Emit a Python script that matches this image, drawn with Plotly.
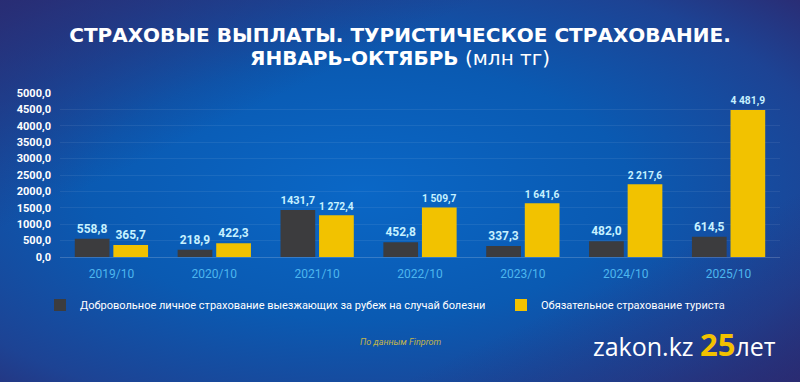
import base64
import plotly.graph_objects as go

categories = ["2019/10", "2020/10", "2021/10", "2022/10", "2023/10", "2024/10", "2025/10"]
voluntary = [558.8, 218.9, 1431.7, 452.8, 337.3, 482.0, 614.5]
voluntary_labels = ["558,8", "218,9", "1431,7", "452,8", "337,3", "482,0", "614,5"]
mandatory = [365.7, 422.3, 1272.4, 1509.7, 1641.6, 2217.6, 4481.9]
mandatory_labels = ["365,7", "422,3", "1 272,4", "1 509,7", "1 641,6", "2 217,6", "4 481,9"]
y_ticks = [0, 500, 1000, 1500, 2000, 2500, 3000, 3500, 4000, 4500, 5000]
y_tick_labels = ["0,0", "500,0", "1000,0", "1500,0", "2000,0", "2500,0", "3000,0",
                 "3500,0", "4000,0", "4500,0", "5000,0"]
series_names = ["Добровольное личное страхование выезжающих за рубеж на случай болезни",
                "Обязательное страхование туриста"]

W, H = 800, 382
FONT = "Roboto"
TITLE_FONT = "DejaVu Sans"
LABEL_COLOR = "#c6f1ff"

svg = f"""<svg xmlns='http://www.w3.org/2000/svg' width='{W}' height='{H}' viewBox='0 0 {W} {H}' preserveAspectRatio='none'>
<defs>
<radialGradient id='g' cx='0.45' cy='0.5' r='0.75'>
<stop offset='0' stop-color='#0a67c6'/>
<stop offset='0.45' stop-color='#0a5ab2'/>
<stop offset='0.8' stop-color='#1d4394'/>
<stop offset='1' stop-color='#2a2c74'/>
</radialGradient>
<linearGradient id='tl' x1='0' y1='0' x2='1' y2='1'>
<stop offset='0' stop-color='#2a2a70' stop-opacity='0.8'/>
<stop offset='0.3' stop-color='#2a2a70' stop-opacity='0'/>
<stop offset='0.75' stop-color='#2a2a70' stop-opacity='0'/>
<stop offset='1' stop-color='#2a2a70' stop-opacity='0.6'/>
</linearGradient>
</defs>
<rect width='{W}' height='{H}' fill='url(#g)'/>
<rect width='{W}' height='{H}' fill='url(#tl)'/>
</svg>"""
bg_src = "data:image/svg+xml;base64," + base64.b64encode(svg.encode("utf-8")).decode("ascii")

fig = go.Figure()
fig.add_trace(go.Bar(
    x=categories, y=voluntary, name=series_names[0],
    marker=dict(color="#3c3c3e", line=dict(width=14, color="rgba(0,0,0,0)")),
    text=voluntary_labels, textposition="outside",
    textfont=dict(family=FONT, size=12, color=LABEL_COLOR, weight="bold"),
    cliponaxis=False, hoverinfo="x+y", legend="legend",
))
fig.add_trace(go.Bar(
    x=categories, y=mandatory, name=series_names[1],
    marker=dict(color="#f2c200", line=dict(width=14, color="rgba(0,0,0,0)")),
    text=mandatory_labels, textposition="outside",
    textfont=dict(family=FONT, size=12, color=LABEL_COLOR, weight="bold"),
    cliponaxis=False, hoverinfo="x+y", legend="legend2",
))

plot_left, plot_right = 60, 780
plot_top, plot_bottom = 93, 257

legend_common = dict(
    orientation="h", xref="container", yref="container",
    xanchor="left", y=1 - 305 / H, yanchor="middle",
    font=dict(family=FONT, size=11, color="white"),
    bgcolor="rgba(0,0,0,0)", borderwidth=0, itemwidth=30,
    itemclick=False, itemdoubleclick=False,
)

fig.update_layout(
    width=W, height=H,
    margin=dict(l=0, r=0, t=0, b=0, autoexpand=False),
    paper_bgcolor="#0b56ab",
    plot_bgcolor="rgba(0,0,0,0)",
    barmode="group", bargap=0.25, bargroupgap=0.1,
    font=dict(family=FONT, color="white"),
    images=[dict(source=bg_src, xref="paper", yref="paper", x=0, y=1,
                 sizex=1, sizey=1, sizing="stretch", xanchor="left",
                 yanchor="top", layer="below")],
    title=dict(
        text="<b>СТРАХОВЫЕ ВЫПЛАТЫ. ТУРИСТИЧЕСКОЕ СТРАХОВАНИЕ.</b>",
        x=0.5, xanchor="center", y=1 - 35 / H, yanchor="middle",
        xref="container", yref="container",
        font=dict(family=TITLE_FONT, size=20, color="white"),
    ),
    xaxis=dict(
        domain=[plot_left / W, plot_right / W],
        showgrid=False, showline=False, zeroline=False,
        tickfont=dict(family=FONT, size=12, color="#4db6ee"),
        ticks="", ticklabelstandoff=8,
    ),
    yaxis=dict(
        domain=[1 - plot_bottom / H, 1 - plot_top / H],
        range=[0, 5000],
        tickvals=y_ticks, ticktext=y_tick_labels,
        tickfont=dict(family=FONT, size=11, color="white", weight="bold"),
        showgrid=True, gridcolor="rgba(255,255,255,0.07)", gridwidth=1,
        zeroline=True, zerolinecolor="rgba(255,255,255,0.18)", zerolinewidth=1,
        showline=False, ticks="", ticklabelstandoff=8,
    ),
    showlegend=True,
    legend=dict(legend_common, x=40 / W),
    legend2=dict(legend_common, x=501 / W),
    annotations=[
        dict(text="<b>ЯНВАРЬ-ОКТЯБРЬ</b> (млн тг)", xref="paper", yref="paper",
             x=0.5, y=1 - 58 / H, xanchor="center", yanchor="middle",
             showarrow=False, font=dict(family=TITLE_FONT, size=20, color="white")),
        dict(text="<i>По данным Finprom</i>", xref="paper", yref="paper",
             x=401 / W, y=1 - 342 / H, xanchor="center", yanchor="middle",
             showarrow=False, font=dict(family=FONT, size=9, color="#c2b44c")),
        dict(text="zakon.kz <span style='color:#f2c200;font-size:31px'><b>25</b></span>лет",
             xref="paper", yref="paper", x=684 / W, y=1 - 344 / H,
             xanchor="center", yanchor="middle", showarrow=False,
             font=dict(family="Open Sans", size=25, color="white")),
    ],
)

fig.write_html(
    "out.html",
    config={"displayModeBar": False},
    post_script="document.body.style.margin='0';document.body.style.overflow='hidden';",
)
